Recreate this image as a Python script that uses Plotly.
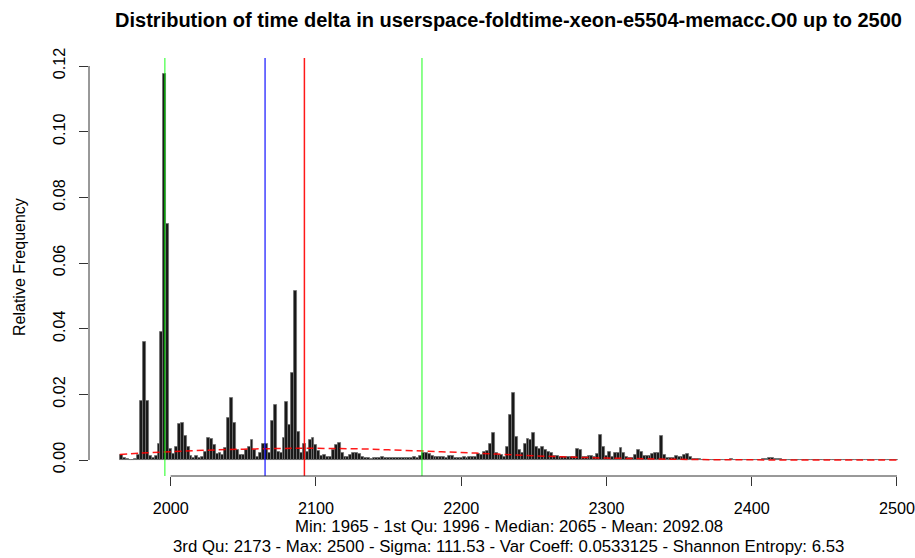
import plotly.graph_objects as go

# ---- data ----
bin_start = 1965
bin_width = 2
rel_freq = [
    0.0015, 0.0006, 0.0002, 0.0, 0.0, 0.0002, 0.0015, 0.018, 0.036, 0.018,
    0.0012, 0.0005, 0.0012, 0.005, 0.039, 0.1175, 0.072, 0.0033, 0.0018, 0.004,
    0.011, 0.0112, 0.0074, 0.004, 0.0012, 0.0006, 0.0012, 0.0006, 0.0008, 0.0025,
    0.0066, 0.0063, 0.0045, 0.0018, 0.002, 0.0015, 0.0038, 0.0127, 0.0188, 0.0113,
    0.003, 0.0015, 0.0015, 0.003, 0.004, 0.006, 0.003, 0.001, 0.002, 0.005,
    0.005, 0.002, 0.012, 0.0167, 0.0025, 0.002, 0.0066, 0.0178, 0.0107, 0.0264,
    0.0515, 0.0085, 0.002, 0.0048, 0.0025, 0.0062, 0.0068, 0.0045, 0.0028, 0.0012,
    0.0015, 0.0008, 0.0008, 0.003, 0.0046, 0.0053, 0.002, 0.0008, 0.0008, 0.0015,
    0.002, 0.002, 0.0018, 0.0008, 0.0005, 0.0005, 0.0004, 0.0005, 0.0006, 0.0005,
    0.0008, 0.0006, 0.0005, 0.0006, 0.0007, 0.0006, 0.0005, 0.0005, 0.0006, 0.0005,
    0.0006, 0.0008, 0.0006, 0.0012, 0.002, 0.002, 0.0018, 0.0012, 0.001, 0.001,
    0.0008, 0.0008, 0.0007, 0.0012, 0.0013, 0.0007, 0.0006, 0.0007, 0.0008, 0.0007,
    0.001, 0.001, 0.0009, 0.0018, 0.0015, 0.0025, 0.0027, 0.005, 0.0081, 0.002,
    0.0015, 0.0015, 0.001, 0.004, 0.0137, 0.0203, 0.0071, 0.003, 0.002, 0.0048,
    0.0064, 0.0062, 0.0081, 0.004, 0.0035, 0.004, 0.003, 0.0025, 0.002, 0.0013,
    0.0013, 0.001, 0.001, 0.0008, 0.0008, 0.0008, 0.0008, 0.0035, 0.003, 0.001,
    0.001, 0.0013, 0.0013, 0.001, 0.0017, 0.0076, 0.004, 0.0013, 0.0025, 0.001,
    0.002, 0.0022, 0.0036, 0.002, 0.001, 0.0007, 0.0007, 0.0015, 0.003, 0.0023,
    0.0013, 0.0013, 0.0013, 0.0017, 0.002, 0.002, 0.0074, 0.0015, 0.0005, 0.0005,
    0.0005, 0.0013, 0.001, 0.001, 0.0015, 0.0017, 0.001, 0.0003, 0.0003, 0.0002,
    0.0001, 0.0001, 0.0001, 0.0, 0.0001, 0.0001, 0.0, 0.0001, 0.0001, 0.0001,
    0.0002, 0.0, 0.0, 0.0001, 0.0, 0.0, 0.0, 0.0, 0.0, 0.0,
    0.0, 0.0003, 0.0004, 0.0005, 0.0005, 0.0004, 0.0003, 0.0002, 0.0, 0.0,
    0.0, 0.0, 0.0, 0.0, 0.0, 0.0, 0.0, 0.0, 0.0, 0.0,
    0.0, 0.0, 0.0, 0.0, 0.0, 0.0, 0.0, 0.0, 0.0, 0.0,
    0.0, 0.0, 0.0, 0.0, 0.0, 0.0, 0.0, 0.0, 0.0, 0.0,
    0.0, 0.0, 0.0, 0.0, 0.0, 0.0, 0.0, 0.00005,
]

# dashed density curve
dens_x = [1965, 1980, 2000, 2025, 2050, 2075, 2092, 2110, 2130, 2150, 2175,
          2200, 2225, 2250, 2275, 2300, 2325, 2350, 2375, 2400, 2450, 2500]
dens_y = [0.0017, 0.0021, 0.0025, 0.0030, 0.0033, 0.0035, 0.0036, 0.0035,
          0.0034, 0.0031, 0.0027, 0.0023, 0.0018, 0.0013, 0.0009, 0.0006,
          0.0004, 0.0002, 0.0001, 0.00005, 0.0, 0.0]

# summary statistics (vertical lines)
stat_names = ["1st Qu", "Median", "Mean", "3rd Qu"]
stat_values = [1996, 2065, 2092.08, 2173]
stat_colors = ["rgba(0,255,0,0.6)", "rgba(0,0,255,0.75)",
               "rgba(255,0,0,0.9)", "rgba(0,255,0,0.6)"]

x_ticks = [2000, 2100, 2200, 2300, 2400, 2500]
y_ticks = [0.00, 0.02, 0.04, 0.06, 0.08, 0.10, 0.12]

title_text = "Distribution of time delta in userspace-foldtime-xeon-e5504-memacc.O0 up to 2500"
sub1 = "Min: 1965 - 1st Qu: 1996 - Median: 2065 - Mean: 2092.08"
sub2 = "3rd Qu: 2173 - Max: 2500 - Sigma: 111.53 - Var Coeff: 0.0533125 - Shannon Entropy: 6.53"

FONT = "Liberation Sans, Arial, Helvetica, sans-serif"

centers = [bin_start + bin_width * (i + 0.5) for i in range(len(rel_freq))]

fig = go.Figure()
fig.add_trace(go.Bar(
    x=centers, y=rel_freq, width=bin_width,
    marker=dict(color="#181818", line=dict(color="#707070", width=0.9)),
    hoverinfo="x+y", showlegend=False,
))
fig.add_trace(go.Scatter(
    x=dens_x, y=dens_y, mode="lines",
    line=dict(color="rgba(255,0,0,0.9)", width=1.5, dash="7px,4px", shape="spline"),
    showlegend=False, hoverinfo="skip",
))

shapes = []
for v, c in zip(stat_values, stat_colors):
    shapes.append(dict(type="line", xref="x", yref="paper", x0=v, x1=v, y0=0, y1=1,
                       line=dict(color=c, width=1.5), layer="above"))
# R-style axis lines spanning first..last tick
shapes.append(dict(type="line", xref="x", yref="paper", x0=x_ticks[0], x1=x_ticks[-1],
                   y0=0, y1=0, line=dict(color="#333", width=1)))
shapes.append(dict(type="line", xref="paper", yref="y", x0=0, x1=0,
                   y0=y_ticks[0], y1=y_ticks[-1], line=dict(color="#333", width=1)))

W, H = 915, 558
ml, mr, mt, mb = 89, 0, 58, 82

fig.update_layout(
    width=W, height=H,
    margin=dict(l=ml, r=mr, t=mt, b=mb, pad=0),
    paper_bgcolor="white", plot_bgcolor="white",
    font=dict(family=FONT, size=16, color="#000"),
    bargap=0,
    title=dict(text="<b>" + title_text + "</b>", xref="container", yref="container",
               x=508.5 / W, y=1 - 20 / H, xanchor="center", yanchor="middle",
               font=dict(family=FONT, size=20, color="#000")),
    xaxis=dict(range=[1943.8, 2512.4], tickvals=x_ticks, ticktext=[str(t) for t in x_ticks],
               ticks="outside", ticklen=9, tickcolor="#333", tickwidth=1,
               showline=False, showgrid=False, zeroline=False,
               ticklabelstandoff=9, tickfont=dict(size=16.2)),
    yaxis=dict(range=[-0.00487, 0.12244], tickvals=y_ticks,
               ticktext=["%.2f" % t for t in y_ticks],
               ticks="outside", ticklen=9, tickcolor="#333", tickwidth=1,
               tickangle=-90, showline=False, showgrid=False, zeroline=False,
               ticklabelstandoff=8, tickfont=dict(size=16.2)),
    shapes=shapes,
    annotations=[
        dict(text="Relative Frequency", xref="paper", yref="paper", x=0, y=0.5,
             xshift=19 - ml, xanchor="center", yanchor="middle", textangle=-90,
             showarrow=False, font=dict(size=16)),
        dict(text=sub1, xref="paper", yref="paper", x=(508.5 - ml) / (W - ml - mr), y=0,
             yshift=-(526.5 - (H - mb)), xanchor="center", yanchor="middle",
             showarrow=False, font=dict(size=16.8)),
        dict(text=sub2, xref="paper", yref="paper", x=(508.5 - ml) / (W - ml - mr), y=0,
             yshift=-(546 - (H - mb)), xanchor="center", yanchor="middle",
             showarrow=False, font=dict(size=16.8)),
    ],
)

fig.write_html("out.html", config={"displayModeBar": False},
               post_script="document.body.style.margin='0';document.body.style.overflow='hidden';")
